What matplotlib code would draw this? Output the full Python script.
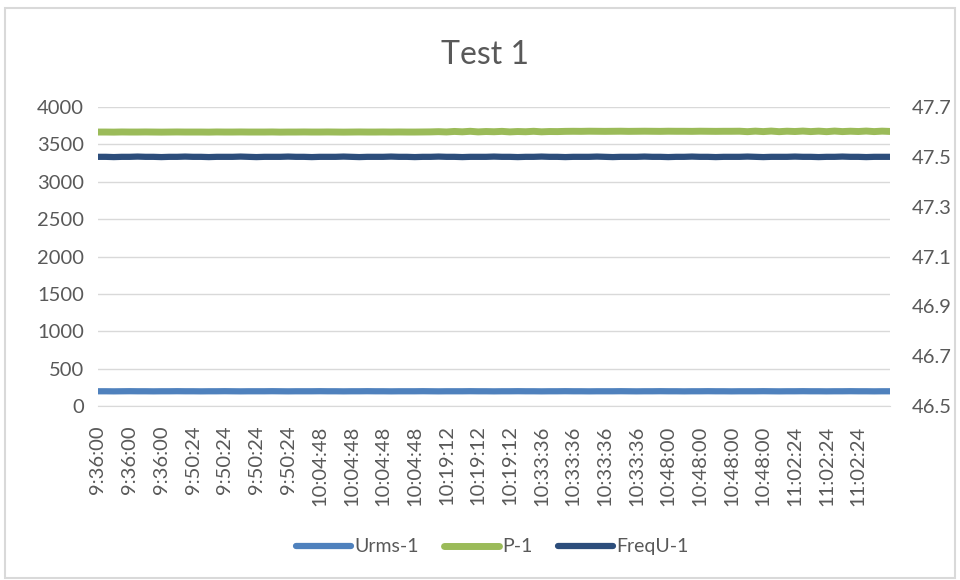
import matplotlib
import matplotlib.pyplot as plt
from matplotlib.ticker import FormatStrFormatter

plt.switch_backend('agg')
matplotlib.rcParams['font.family'] = ['Lato', 'DejaVu Sans']

# x tick labels (one every 4 samples)
time_labels = [
    "9:36:00", "9:36:00", "9:36:00",
    "9:50:24", "9:50:24", "9:50:24", "9:50:24",
    "10:04:48", "10:04:48", "10:04:48", "10:04:48",
    "10:19:12", "10:19:12", "10:19:12",
    "10:33:36", "10:33:36", "10:33:36", "10:33:36",
    "10:48:00", "10:48:00", "10:48:00", "10:48:00",
    "11:02:24", "11:02:24", "11:02:24",
]
LABEL_STEP = 4

# Urms-1 (left axis)
urms = [
    197, 197, 196, 197, 198, 197, 197, 196, 197, 197,
    198, 197, 197, 196, 197, 197, 198, 197, 196, 197,
    197, 197, 198, 197, 196, 197, 197, 197, 198, 197,
    197, 196, 197, 197, 198, 197, 197, 196, 197, 197,
    197, 198, 197, 196, 197, 197, 197, 198, 197, 197,
    196, 197, 197, 198, 197, 197, 196, 197, 197, 198,
    197, 197, 196, 197, 197, 197, 198, 197, 196, 197,
    197, 198, 197, 197, 196, 197, 197, 198, 197, 197,
    196, 197, 197, 197, 198, 197, 196, 197, 197, 198,
    197, 197, 196, 197, 197, 198, 197, 197, 196, 197, 197,
]

# P-1 (left axis)
p1 = [
    3665, 3665, 3664, 3666, 3665, 3665, 3666, 3665, 3664, 3665,
    3666, 3665, 3665, 3665, 3664, 3666, 3665, 3665, 3666, 3665,
    3665, 3665, 3666, 3664, 3665, 3665, 3666, 3665, 3665, 3666,
    3665, 3664, 3665, 3666, 3665, 3665, 3666, 3665, 3666, 3665,
    3665, 3666, 3667, 3670, 3666, 3673, 3668, 3675, 3667, 3672,
    3669, 3674, 3667, 3672, 3669, 3675, 3668, 3672, 3671, 3674,
    3675, 3674, 3676, 3675, 3674, 3675, 3676, 3674, 3675, 3676,
    3675, 3674, 3676, 3675, 3675, 3674, 3676, 3675, 3674, 3675,
    3675, 3676, 3670, 3677, 3671, 3678, 3670, 3676, 3672, 3678,
    3671, 3677, 3670, 3678, 3671, 3676, 3672, 3678, 3671, 3677, 3673,
]

# FreqU-1 (right axis)
frequ = [
    47.500, 47.500, 47.499, 47.500, 47.500, 47.501, 47.500, 47.500, 47.499, 47.500,
    47.500, 47.501, 47.500, 47.500, 47.499, 47.500, 47.500, 47.500, 47.501, 47.500,
    47.499, 47.500, 47.500, 47.500, 47.501, 47.500, 47.500, 47.499, 47.500, 47.500,
    47.500, 47.501, 47.500, 47.499, 47.500, 47.500, 47.500, 47.501, 47.500, 47.500,
    47.499, 47.500, 47.500, 47.501, 47.500, 47.500, 47.499, 47.500, 47.500, 47.500,
    47.501, 47.500, 47.500, 47.499, 47.500, 47.500, 47.501, 47.500, 47.500, 47.499,
    47.500, 47.500, 47.500, 47.501, 47.500, 47.499, 47.500, 47.500, 47.500, 47.501,
    47.500, 47.500, 47.499, 47.500, 47.500, 47.501, 47.500, 47.500, 47.499, 47.500,
    47.500, 47.500, 47.501, 47.500, 47.499, 47.500, 47.500, 47.500, 47.501, 47.500,
    47.500, 47.499, 47.500, 47.500, 47.501, 47.500, 47.500, 47.499, 47.500, 47.500, 47.500,
]

TEXT = '#595959'
GRID = '#D9D9D9'

fig = plt.figure(figsize=(9.6, 5.8), dpi=100)
ax = fig.add_axes([98/960, 1 - 406/580, 792/960, 299/580])
ax2 = ax.twinx()

x = list(range(len(p1)))
l1, = ax.plot(x, urms, color='#4F81BD', linewidth=4.5, solid_capstyle='round', label='Urms-1')
l2, = ax.plot(x, p1, color='#9BBB59', linewidth=5, solid_capstyle='round', label='P-1')
l3, = ax2.plot(x, frequ, color='#2C4D7B', linewidth=4.5, solid_capstyle='round', label='FreqU-1')

ax.set_xlim(0, len(p1) - 1)
ax.set_ylim(0, 4000)
ax.set_yticks(range(0, 4001, 500))
ax2.set_ylim(46.5, 47.7)
ax2.set_yticks([46.5, 46.7, 46.9, 47.1, 47.3, 47.5, 47.7])
ax2.yaxis.set_major_formatter(FormatStrFormatter('%.1f'))

ax.set_xticks([i * LABEL_STEP for i in range(len(time_labels))])
ax.set_xticklabels(time_labels, rotation=90)

ax.grid(axis='y', color=GRID, linewidth=1)
ax.set_axisbelow(True)
for a in (ax, ax2):
    for s in a.spines.values():
        s.set_visible(False)
    a.tick_params(length=0, labelsize=14.5, colors=TEXT)
ax.spines['bottom'].set_visible(True)
ax.spines['bottom'].set_color(GRID)
ax.tick_params(axis='y', pad=10)
ax.tick_params(axis='x', pad=14)
ax2.tick_params(axis='y', pad=16)

fig.text(0.505, 1 - 55/580, 'Test 1', fontsize=23, color=TEXT, ha='center', va='center')

fig.legend(handles=[l1, l2, l3], loc='center', bbox_to_anchor=(0.513, 0.057), ncol=3,
           frameon=False, fontsize=14, labelcolor=TEXT, handlelength=2.8,
           handletextpad=0.2, columnspacing=1.3)

# chart area border
fig.patches.append(plt.Rectangle((5/960, 2/580), 950/960, 570/580, transform=fig.transFigure,
                                 fill=False, edgecolor=GRID, linewidth=1.5))

fig.savefig('out.png', dpi=100)
